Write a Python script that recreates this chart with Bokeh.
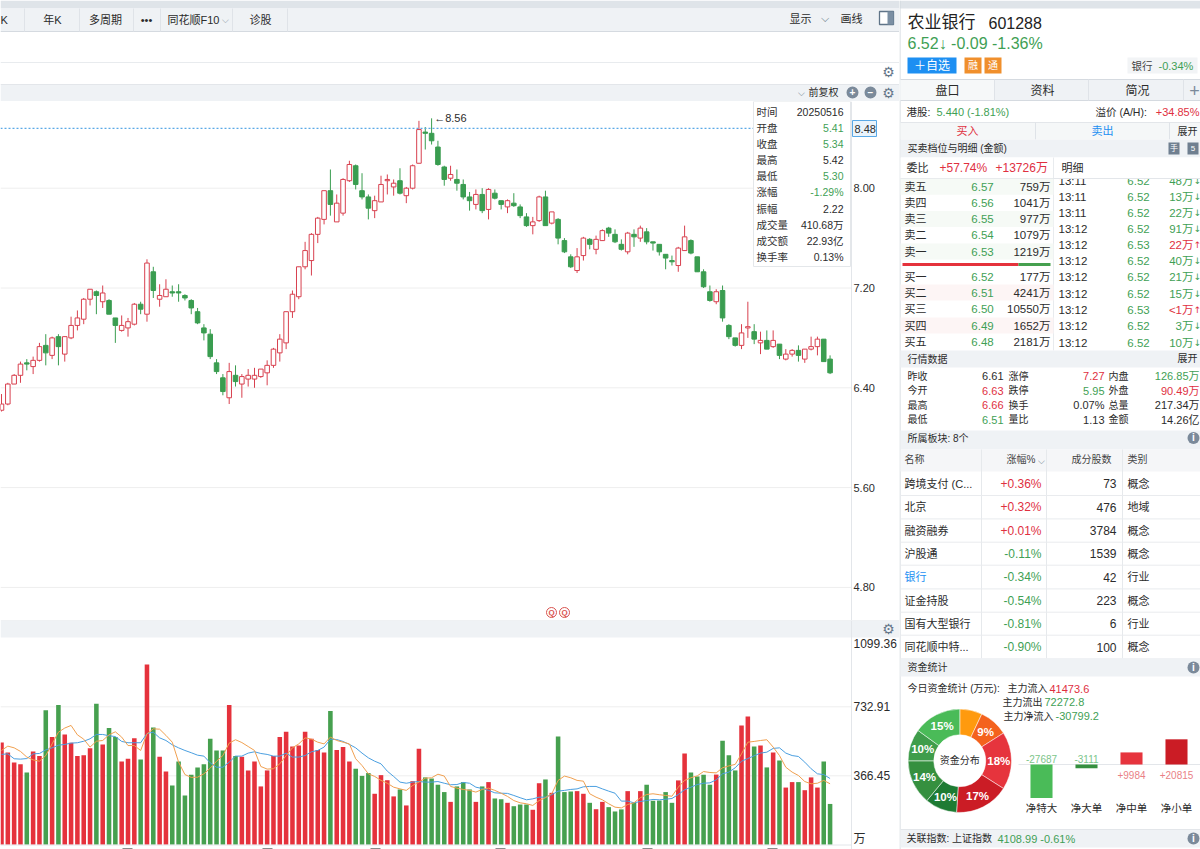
from bokeh.plotting import figure
from bokeh.layouts import row, column
from bokeh.core.properties import value
from bokeh.models import ColumnDataSource, Range1d, LinearAxis, FixedTicker, NumeralTickFormatter
from bokeh.embed import file_html
from bokeh.resources import INLINE
import math

opens = [6.22,6.27,6.43,6.50,6.60,6.57,6.62,6.74,6.66,6.81,6.67,6.80,6.90,6.95,7.11,7.17,7.09,7.10,6.96,6.86,
         6.88,6.91,7.07,6.99,7.33,7.11,7.13,7.17,7.17,7.14,7.10,7.01,6.88,6.83,6.60,6.48,6.32,6.50,6.43,6.47,
         6.47,6.49,6.52,6.58,6.68,6.76,7.01,7.13,7.37,7.42,7.63,7.75,7.98,7.73,7.80,8.06,8.18,7.98,7.93,7.82,
         7.89,8.06,8.01,8.06,7.94,8.00,8.20,8.45,8.44,8.33,8.17,8.08,8.07,8.03,7.93,7.87,7.95,7.83,7.96,7.90,
         7.85,7.88,7.85,7.77,7.70,7.74,7.93,7.72,7.75,7.58,7.45,7.34,7.46,7.59,7.51,7.58,7.68,7.63,7.55,7.49,
         7.63,7.60,7.65,7.57,7.55,7.47,7.42,7.38,7.50,7.58,7.45,7.33,7.17,7.09,7.18,6.90,6.80,6.74,6.88,6.85,
         6.76,6.78,6.73,6.75,6.63,6.67,6.70,6.63,6.71,6.73,6.79,6.63]
closes = [6.27,6.43,6.50,6.59,6.59,6.62,6.73,6.68,6.80,6.73,6.81,6.90,6.96,7.11,7.19,7.14,7.16,6.99,6.90,6.90,
          6.93,7.07,7.03,7.40,7.18,7.14,7.19,7.16,7.16,7.12,7.04,6.92,6.84,6.65,6.53,6.37,6.53,6.45,6.49,6.50,
          6.50,6.55,6.58,6.71,6.79,7.01,7.15,7.37,7.50,7.63,7.76,7.98,7.87,7.88,8.07,8.19,8.03,7.93,7.84,7.90,
          8.03,8.07,8.04,7.96,8.00,8.18,8.47,8.44,8.38,8.19,8.07,8.11,8.04,7.93,7.90,7.95,7.82,7.99,7.92,7.87,
          7.90,7.86,7.78,7.70,7.73,7.93,7.70,7.81,7.60,7.49,7.37,7.45,7.60,7.55,7.59,7.66,7.64,7.57,7.51,7.64,
          7.61,7.68,7.57,7.56,7.49,7.44,7.41,7.52,7.61,7.48,7.33,7.21,7.10,7.17,6.96,6.81,6.74,6.84,6.89,6.79,
          6.78,6.71,6.78,6.66,6.67,6.70,6.66,6.71,6.73,6.79,6.61,6.52]
highs = [6.35,6.44,6.51,6.61,6.63,6.65,6.76,6.83,6.81,6.83,6.81,6.97,7.02,7.12,7.19,7.18,7.22,7.11,6.96,6.98,
         6.96,7.08,7.09,7.43,7.37,7.23,7.27,7.22,7.23,7.15,7.11,7.04,6.91,6.87,6.63,6.51,6.60,6.58,6.51,6.55,
         6.56,6.55,6.62,6.72,6.83,7.01,7.18,7.37,7.57,7.64,7.77,7.98,8.15,7.95,8.08,8.22,8.19,8.12,7.95,7.94,
         8.10,8.11,8.07,8.16,8.01,8.19,8.54,8.49,8.56,8.38,8.18,8.18,8.15,8.07,7.97,7.99,8.00,8.00,7.99,7.90,
         7.91,7.96,7.87,7.80,7.77,7.94,7.98,7.81,7.76,7.60,7.47,7.52,7.61,7.60,7.62,7.67,7.69,7.67,7.59,7.65,
         7.67,7.70,7.68,7.57,7.55,7.47,7.46,7.53,7.70,7.59,7.45,7.35,7.22,7.19,7.22,6.91,6.80,6.91,7.09,6.91,
         6.85,6.86,6.86,6.75,6.71,6.71,6.74,6.71,6.81,6.81,6.79,6.66]
lows = [6.21,6.26,6.43,6.44,6.54,6.51,6.61,6.58,6.63,6.58,6.61,6.79,6.86,6.91,7.06,6.99,7.04,6.99,6.76,6.85,
        6.81,6.90,6.99,6.93,7.12,7.05,7.13,7.13,7.09,7.10,6.99,6.91,6.78,6.63,6.51,6.34,6.27,6.41,6.32,6.41,
        6.40,6.48,6.42,6.56,6.61,6.71,6.96,7.11,7.35,7.30,7.56,7.71,7.78,7.73,7.78,8.05,7.99,7.91,7.75,7.76,
        7.89,7.95,7.94,7.95,7.88,7.99,8.20,8.31,8.35,8.18,8.02,8.06,7.98,7.91,7.82,7.83,7.80,7.75,7.91,7.83,
        7.80,7.85,7.76,7.69,7.63,7.73,7.70,7.71,7.55,7.48,7.36,7.32,7.42,7.51,7.47,7.58,7.61,7.56,7.50,7.47,
        7.53,7.57,7.55,7.50,7.46,7.35,7.38,7.33,7.50,7.47,7.33,7.20,7.09,7.07,6.93,6.79,6.73,6.71,6.80,6.75,
        6.67,6.71,6.72,6.63,6.62,6.65,6.61,6.60,6.70,6.66,6.61,6.51]
volumes = [543,490,437,428,384,496,471,715,572,743,586,542,471,476,513,749,533,620,572,443,
           457,566,453,958,623,467,389,315,443,262,372,411,428,563,501,501,743,471,467,395,
           443,310,395,471,572,600,522,527,600,563,504,490,710,504,519,443,404,366,381,271,
           370,343,257,294,209,338,510,358,352,319,280,228,310,333,294,228,310,333,246,242,
           223,205,214,214,186,327,347,276,575,280,283,285,271,223,189,228,200,177,188,285,
           223,285,319,234,235,280,223,342,485,384,363,372,319,373,552,476,395,634,681,522,
           527,411,490,448,304,333,333,290,358,304,443,217]
ma_fast = [501,524,515,496,466,451,444,474,536,598,620,634,584,561,519,550,554,584,600,572,
           527,527,501,589,616,614,581,545,439,373,358,359,377,407,444,474,540,558,543,522,
           501,416,402,404,430,474,515,536,568,561,545,536,572,554,545,536,457,421,377,363,
           342,327,306,297,289,315,333,354,356,375,365,310,301,294,289,280,294,301,289,274,
           257,235,223,218,209,235,250,271,342,365,356,342,338,271,253,239,218,200,196,214,
           223,250,267,271,266,262,258,306,342,356,366,389,384,382,409,419,427,483,545,549,
           554,558,519,474,412,386,368,336,324,327,342,324]
ma_slow = [480,483,457,455,458,483,485,504,515,529,533,540,542,550,563,586,586,579,575,549,
           542,542,542,591,598,568,554,531,515,501,489,476,471,435,412,412,439,471,471,487,
           494,485,480,471,471,487,466,466,474,494,501,519,561,559,549,533,515,487,462,444,
           430,391,363,333,327,333,336,333,333,336,327,319,320,331,327,306,299,289,276,274,
           273,262,250,239,244,253,253,266,285,289,294,297,308,310,310,297,285,274,232,232,
           223,230,235,241,239,242,246,267,292,306,320,327,329,345,377,386,409,444,458,473,
           487,492,512,515,487,474,469,439,404,377,373,352]
price_ticks = [4.80, 5.60, 6.40, 7.20, 8.00]
volume_ticks = [366.45, 732.91]
max_price = 8.56
last_line_price = 8.48

toolbar_tabs = ["年K", "多周期", "•••", "同花顺F10", "诊股"]
info_labels = ["时间", "开盘", "收盘", "最高", "最低", "涨幅", "振幅", "成交量", "成交额", "换手率"]
info_values = ["20250516", "5.41", "5.34", "5.42", "5.30", "-1.29%", "2.22", "410.68万", "22.93亿", "0.13%"]
info_colors = ["k", "g", "g", "k", "g", "g", "k", "k", "k", "k"]

book_names = ["卖五", "卖四", "卖三", "卖二", "卖一", "买一", "买二", "买三", "买四", "买五"]
book_prices = ["6.57", "6.56", "6.55", "6.54", "6.53", "6.52", "6.51", "6.50", "6.49", "6.48"]
book_sizes = ["759万", "1041万", "977万", "1079万", "1219万", "177万", "4241万", "10550万", "1652万", "2181万"]
tick_times = ["13:11", "13:11", "13:11", "13:12", "13:12", "13:12", "13:12", "13:12", "13:12", "13:12", "13:12"]
tick_prices = ["6.52", "6.52", "6.52", "6.52", "6.53", "6.52", "6.52", "6.52", "6.53", "6.52", "6.52"]
tick_sizes = ["48万", "13万", "22万", "91万", "22万", "40万", "21万", "15万", "<1万", "3万", "10万"]

quote_rows = [
    ("昨收", "6.61", "k", "涨停", "7.27", "r", "内盘", "126.85万", "g"),
    ("今开", "6.63", "r", "跌停", "5.95", "g", "外盘", "90.49万", "r"),
    ("最高", "6.66", "r", "换手", "0.07%", "k", "总量", "217.34万", "k"),
    ("最低", "6.51", "g", "量比", "1.13", "k", "金额", "14.26亿", "k"),
]
sector_names = ["跨境支付 (C...", "北京", "融资融券", "沪股通", "银行", "证金持股", "国有大型银行", "同花顺中特..."]
sector_pcts = ["+0.36%", "+0.32%", "+0.01%", "-0.11%", "-0.34%", "-0.54%", "-0.81%", "-0.90%"]
sector_counts = ["73", "476", "3784", "1539", "42", "223", "6", "100"]
sector_types = ["概念", "地域", "概念", "概念", "行业", "概念", "行业", "概念"]

flow_shares = [7, 9, 18, 17, 10, 14, 10, 15]
flow_colors = ["#ff9a0e", "#f4621d", "#e6343d", "#cb1c25", "#1e7b33", "#35903f", "#3f9d4b", "#4abb58"]
net_names = ["净特大", "净大单", "净中单", "净小单"]
net_values = [-27687, -3111, 9984, 20815]
net_colors = ["#4abb58", "#35903f", "#e6343d", "#cb1c25"]

CJK = "'Liberation Sans', 'Noto Sans CJK SC', sans-serif"
RED = "#e0303f"
GREEN = "#3f9f55"
INK = "#2b2b2b"
BAND = "#eff2f5"
EDGE = "#dfe4e9"
COLORS = {"r": RED, "g": GREEN, "k": INK}


def put(fig, x, y, text, color=INK, size=11, align="left", font=CJK, style="normal"):
    fig.text(x=[x], y=[y], text=[text], text_color=color, text_font_size=f"{size}px", text_align=align,
             text_baseline="middle", text_font=value(font), text_font_style=style)


def box(fig, left, right, top, bottom, color, line=None):
    fig.quad(left=[left], right=[right], top=[top], bottom=[bottom], fill_color=color, line_color=line)


def hline(fig, x0, x1, y, color="#e3e6ea", width=1):
    fig.segment(x0=[x0], y0=[y], x1=[x1], y1=[y], line_color=color, line_width=width)


def vline(fig, x, y0, y1, color="#dfe3e8", width=1):
    fig.segment(x0=[x], y0=[y0], x1=[x], y1=[y1], line_color=color, line_width=width)


def gear(fig, x, y):
    put(fig, x, y, "⚙", "#66778a", 14, "center", "DejaVu Sans")


def dot(fig, x, y, mark, color="#7b8a9a"):
    fig.scatter(x=[x], y=[y], size=12, marker="circle", fill_color=color, line_color=None)
    put(fig, x, y - 0.5, mark, "#ffffff", 10, "center", CJK, "bold")


def make_figure(width, height, x0, x1, y_top, y_bottom):
    fig = figure(width=width, height=height, output_backend="svg", toolbar_location=None, tools="",
                 x_range=Range1d(x0, x1), y_range=Range1d(y_bottom, y_top), x_axis_location=None,
                 y_axis_location=None, min_border=0, outline_line_color=None)
    fig.xgrid.visible = False
    fig.ygrid.visible = False
    return fig


def inner_axis(fig, range_name, ticks, size):
    axis = LinearAxis(y_range_name=range_name, ticker=FixedTicker(ticks=ticks), fixed_location=851)
    axis.formatter = NumeralTickFormatter(format="0.00")
    axis.major_tick_line_color = None
    axis.minor_tick_line_color = None
    axis.major_tick_in = 0
    axis.major_tick_out = 0
    axis.axis_line_color = "#e3e6ea"
    axis.major_label_text_color = INK
    axis.major_label_text_font = CJK
    axis.major_label_text_font_size = f"{size}px"
    axis.major_label_standoff = 2
    fig.add_layout(axis, "right")


def bar_range():
    # bar i sits at pixel 1 + 6.325 * i
    return Range1d((0 - 1) / 6.325, (899 - 1) / 6.325)


bars = list(range(len(closes)))
source = ColumnDataSource(dict(
    x=bars, open=opens, close=closes, high=highs, low=lows, volume=volumes,
    ma_fast=ma_fast, ma_slow=ma_slow,
    body_top=[max(o, c) for o, c in zip(opens, closes)],
    body_bottom=[min(o, c) for o, c in zip(opens, closes)],
    line=["#d8404f" if c >= o else "#3a9d50" for o, c in zip(opens, closes)],
    fill=["#ffffff" if c >= o else "#3a9d50" for o, c in zip(opens, closes)],
    vol_color=["#e5323c" if c >= o else "#46a04f" for o, c in zip(opens, closes)],
))

# toolbar above the chart
top = make_figure(899, 101, 0, 899, 0, 101)
box(top, 0, 899, 0, 8, EDGE)
box(top, 0, 899, 8, 31, BAND)
hline(top, 0, 899, 31, "#d5dae0")
for x in [24, 79, 133, 160, 232, 287]:
    vline(top, x, 8, 31)
put(top, 0, 19, "K")
for x, label in zip([52, 105, 146, 193, 260], toolbar_tabs):
    put(top, x, 19, label, INK, 11, "center")
put(top, 225, 19, "⌵", "#8a96a3", 9, "center", "DejaVu Sans")
put(top, 800, 18, "显示", INK, 11, "center")
put(top, 824, 18, "⌵", "#6b7a89", 11, "center", "DejaVu Sans")
put(top, 851, 18, "画线", INK, 11, "center")
top.quad(left=[879], right=[893], top=[11], bottom=[24], fill_color="#ffffff", line_color="#5f7488", line_width=1.3)
box(top, 887, 893, 11, 24, "#7b8fa3")
hline(top, 0, 899, 62, "#e8ebee")
gear(top, 888, 71)
box(top, 0, 899, 84, 101, BAND)
hline(top, 0, 899, 84, "#e3e6ea")
put(top, 801, 92, "⌵", "#6b7a89", 9, "center", "DejaVu Sans")
put(top, 823, 92, "前复权", INK, 10, "center")
dot(top, 852, 92, "+")
dot(top, 870, 92, "−")
gear(top, 888, 92)

# candles
candle = make_figure(899, 519, 0, 899, 101, 620)
candle.extra_x_ranges = {"bars": bar_range()}
# pixel 187.7 is 8.00 and one unit of price is 124.75 pixels
candle.extra_y_ranges = {"price": Range1d(8 - (620 - 187.7) / 124.75, 8 + (187.7 - 101) / 124.75)}
inner_axis(candle, "price", price_ticks, 11)
candle.segment(x0=[0] * len(price_ticks), x1=[851] * len(price_ticks), y0=price_ticks, y1=price_ticks,
               line_color="#eeeeee", y_range_name="price")
candle.segment(x0="x", x1="x", y0="low", y1="high", line_color="line", source=source,
               x_range_name="bars", y_range_name="price")
candle.vbar(x="x", width=0.72, top="body_top", bottom="body_bottom", fill_color="fill", line_color="line",
            source=source, x_range_name="bars", y_range_name="price")
candle.line(x=[0, 851], y=[last_line_price, last_line_price], line_color="#5aa9e6", line_dash=[2, 2],
            line_width=1.2, y_range_name="price")
candle.text(x=[bars[68] + 0.4], y=[max_price], text=[f"←{max_price}"], text_font=value(CJK), text_font_size="11px",
            text_color=INK, text_baseline="middle", x_range_name="bars", y_range_name="price")
# value tooltip
box(candle, 753, 850, 101, 266, "#ffffff", "#e4e7ea")
for y, name, val, tone in zip([111, 127, 143, 159, 175.5, 191.5, 208, 224, 240, 256], info_labels, info_values, info_colors):
    put(candle, 756, y, name, "#333333", 10.5)
    put(candle, 843, y, val, COLORS[tone], 10.5, "right")
candle.quad(left=[852], right=[876], top=[120], bottom=[136], fill_color="#eaf4fc", line_color="#5aa9e6")
put(candle, 854, 128, f"{last_line_price:.2f}", INK, 11)
for x in [551, 564]:
    candle.scatter(x=[x], y=[612], size=10, marker="circle", fill_color="#ffffff", line_color="#d9534f")
    put(candle, x, 612, "Q", "#d9534f", 8, "center", CJK, "bold")

# volume
volume = make_figure(899, 229, 0, 899, 620, 849)
volume.extra_x_ranges = {"bars": bar_range()}
# pixel 844.3 is zero and one pixel is 5.311 volume units
volume.extra_y_ranges = {"vol": Range1d((844.3 - 849) * 5.311, (844.3 - 620) * 5.311)}
inner_axis(volume, "vol", volume_ticks, 12)
box(volume, 0, 899, 620, 637, BAND)
hline(volume, 0, 899, 620, "#e3e6ea")
gear(volume, 888, 628)
volume.segment(x0=[0] * 2, x1=[851] * 2, y0=volume_ticks, y1=volume_ticks, line_color="#eeeeee", y_range_name="vol")
volume.vbar(x="x", width=0.72, top="volume", bottom=0, fill_color="vol_color", line_color=None, source=source,
            x_range_name="bars", y_range_name="vol")
volume.line(x="x", y="ma_slow", line_color="#4a9fe0", line_width=1, source=source, x_range_name="bars", y_range_name="vol")
volume.line(x="x", y="ma_fast", line_color="#f0a050", line_width=1, source=source, x_range_name="bars", y_range_name="vol")
put(volume, 853, 643, "1099.36", INK, 12)
put(volume, 853, 838, "万", INK, 12)
hline(volume, 0, 851, 844.5, "#e3e6ea")
for x in [127, 267, 375, 500, 647, 772]:
    hline(volume, x - 5, x + 5, 848, "#8a8a8a")

# right hand panel
side = make_figure(301, 849, 899, 1200, 0, 849)
side.extra_x_ranges = {"net": Range1d((899 - 1041) / 45, (1200 - 1041) / 45)}
# pixel 764 is zero net flow, 0.00121 pixels per unit
side.extra_y_ranges = {"flow": Range1d((764 - 849) / 0.00121, 764 / 0.00121)}
box(side, 899, 1200, 0, 8, EDGE)
vline(side, 899.5, 0, 849, "#cfd5db")
put(side, 907, 22, "农业银行", "#222222", 17)
put(side, 988, 22, "601288", "#222222", 16)
put(side, 907, 43, "6.52↓ -0.09 -1.36%", GREEN, 16)
side.quad(left=[907], right=[956], top=[57], bottom=[73], fill_color="#1d8ff2", line_color=None)
put(side, 931.5, 65, "＋自选", "#ffffff", 12, "center")
for left, mark in [(964, "融"), (984, "通")]:
    box(side, left, left + 17, 57, 73, "#f08f2c")
    put(side, left + 8.5, 65, mark, "#ffffff", 10, "center")
box(side, 1127, 1197, 57, 73, "#f2f4f6")
put(side, 1131, 65, "银行", "#444444", 10.5)
put(side, 1158, 65, "-0.34%", GREEN, 11)

box(side, 900, 1200, 79, 100, BAND)
box(side, 900, 994, 79, 100, "#f6f8f9")
hline(side, 900, 1200, 79, "#d5dae0")
hline(side, 900, 1200, 100, "#d5dae0")
for x in [994, 1088, 1183]:
    vline(side, x, 79, 100)
for x, label in zip([947, 1042, 1137], ["盘口", "资料", "简况"]):
    put(side, x, 90, label, INK, 12, "center")
put(side, 1194, 90, "+", "#7b8a9a", 18, "center")
put(side, 906, 111, "港股:", INK, 10.5)
put(side, 936, 111, "5.440 (-1.81%)", GREEN, 11)
put(side, 1095, 111, "溢价 (A/H):", INK, 10.5)
put(side, 1199, 111, "+34.85%", RED, 11, "right")

box(side, 900, 1200, 122, 139, "#f5f7f8")
hline(side, 900, 1200, 122, "#e3e6ea")
for x in [1035, 1169]:
    vline(side, x, 122, 139)
put(side, 967, 130.5, "买入", RED, 11, "center")
put(side, 1102, 130.5, "卖出", "#1d8ff2", 11, "center")
put(side, 1187, 130.5, "展开", INK, 10, "center")
box(side, 900, 1200, 139, 157, BAND)
put(side, 907, 148, "买卖档位与明细 (金额)", INK, 10)
for x, mark in [(1173.5, "手"), (1192.5, "5")]:
    box(side, x - 5.5, x + 5.5, 142, 154, "#6f7f90")
    put(side, x, 148, mark, "#ffffff", 8, "center")

# tape first so its top row gets cut off by the header above it
for y, t, pr, size in zip([180, 196.7, 212.7, 228.7, 244.7, 260.7, 276.7, 293, 309.3, 325.7, 342], tick_times, tick_prices, tick_sizes):
    tone = RED if pr == "6.53" else GREEN
    put(side, 1058, y, t, INK, 11.5)
    put(side, 1138, y, pr, GREEN, 11.5, "center")
    put(side, 1193, y, size, tone, 11.5, "right")
    put(side, 1197, y, "↑" if pr == "6.53" else "↓", tone, 9, "center", "DejaVu Sans")
box(side, 1054, 1200, 157, 178, "#ffffff")
box(side, 900, 1054, 157, 178, "#ffffff")
put(side, 906, 167, "委比", INK, 11)
put(side, 939, 167, "+57.74%", RED, 12)
put(side, 995, 167, "+13726万", RED, 12)
put(side, 1061, 167, "明细", INK, 11)
vline(side, 1053, 157, 350, "#e8ebee")
hline(side, 900, 1200, 178, "#e3e6ea")

book_y = [186.3, 202.5, 218.5, 234.7, 251, 276, 292, 308.3, 325, 341.3]
for i, (y, name, pr, size) in enumerate(zip(book_y, book_names, book_prices, book_sizes)):
    tint = "#f6faf6" if i < 5 else "#fdf5f5"
    if i % 2 == 0:
        box(side, 900, 1053, y - 8, y + 8, tint)
    put(side, 904, y, name, INK, 11)
    put(side, 982, y, pr, GREEN, 11.5, "center")
    put(side, 1050, y, size, INK, 11.5, "right")
hline(side, 902, 1018, 264, "#e5323c", 3)
hline(side, 1018, 1050, 264, "#46a04f", 3)

box(side, 900, 1200, 350, 367, BAND)
put(side, 907, 358.5, "行情数据", INK, 10)
put(side, 1187, 358, "展开", INK, 10, "center")
for y, r in zip([375.5, 390, 404.5, 419], quote_rows):
    put(side, 907, y, r[0], INK, 10)
    put(side, 1003, y, r[1], COLORS[r[2]], 11, "right")
    put(side, 1008, y, r[3], INK, 10)
    put(side, 1104, y, r[4], COLORS[r[5]], 11, "right")
    put(side, 1108, y, r[6], INK, 10)
    put(side, 1199, y, r[7], COLORS[r[8]], 11, "right")

box(side, 900, 1200, 430, 449, BAND)
put(side, 907, 437.5, "所属板块: 8个", INK, 10)
box(side, 900, 1200, 449, 471, "#f5f6f8")
put(side, 904, 459, "名称", "#444444", 10)
put(side, 1035, 459, "涨幅%", "#444444", 10, "right")
put(side, 1041, 460, "⌵", "#6b7a89", 9, "center", "DejaVu Sans")
put(side, 1111, 459, "成分股数", "#444444", 10, "right")
put(side, 1127, 459, "类别", "#444444", 10)
for x in [981, 1046, 1122]:
    vline(side, x, 449, 658, "#e6e9ec")
sector_y = [483.3, 506.7, 530, 553, 576.7, 600, 623, 646.7]
for y, name, pct, count, kind in zip(sector_y, sector_names, sector_pcts, sector_counts, sector_types):
    hline(side, 900, 1200, y + 11.7, "#e9ebee")
    put(side, 904, y, name, "#1d8ff2" if name == "银行" else INK, 11)
    put(side, 1041, y, pct, RED if pct.startswith("+") else GREEN, 12, "right")
    put(side, 1116, y, count, INK, 12, "right")
    put(side, 1127, y, kind, INK, 11)

box(side, 900, 1200, 658, 676, BAND)
put(side, 907, 667, "资金统计", INK, 10)
put(side, 907, 688, "今日资金统计 (万元):", INK, 10)
put(side, 1007, 688, "主力流入", INK, 10)
put(side, 1049, 688, "41473.6", RED, 11)
put(side, 1002, 701.7, "主力流出", INK, 10)
put(side, 1044, 701.7, "72272.8", GREEN, 11)
put(side, 1003, 715.7, "主力净流入", INK, 10)
put(side, 1055, 715.7, "-30799.2", GREEN, 11)

for y in [437.5, 667]:
    dot(side, 1193, y, "i")

# donut of the money split, clockwise from twelve o'clock
cx, cy = 959.3, 760.3
cum = 0
for share, color in zip(flow_shares, flow_colors):
    a0 = math.pi / 2 - cum / 100 * 2 * math.pi
    a1 = math.pi / 2 - (cum + share) / 100 * 2 * math.pi
    side.annular_wedge(x=[cx], y=[cy], inner_radius=26, outer_radius=51.7, start_angle=a0, end_angle=a1,
                       direction="clock", fill_color=color, line_color="#ffffff", line_width=0.5)
    if share != flow_shares[0]:
        mid = (a0 + a1) / 2
        put(side, cx + 39 * math.cos(mid), cy - 39 * math.sin(mid), f"{share}%", "#ffffff", 11.5, "center", CJK, "bold")
    cum += share
put(side, cx, cy, "资金分布", INK, 10, "center")

hline(side, 1018, 1200, 764, "#e3e6ea")
side.vbar(x=list(range(4)), width=0.49, top=net_values, bottom=0, fill_color=net_colors, line_color=None,
          x_range_name="net", y_range_name="flow")
for i, (name, val) in enumerate(zip(net_names, net_values)):
    x = 1041 + 45 * i
    put(side, x, 758.3 if val < 0 else 774.7, f"{val:+d}", "#7cc58a" if val < 0 else "#ea7f86", 10, "center")
    put(side, x, 807.7, name, INK, 10.5, "center")

box(side, 900, 1200, 829, 847, BAND)
hline(side, 900, 1200, 829, "#e3e6ea")
put(side, 906, 838, "关联指数: 上证指数", INK, 10)
put(side, 997, 838, "4108.99 -0.61%", GREEN, 11)
dot(side, 1193, 838, "i")

p = row(column(top, candle, volume), side)
open("out.html", "w").write(file_html(p, INLINE))
